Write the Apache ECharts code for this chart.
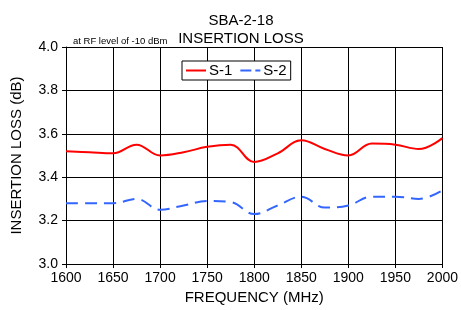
<!DOCTYPE html>
<html>
<head>
<meta charset="utf-8">
<script src="https://cdn.jsdelivr.net/npm/echarts@6/dist/echarts.min.js"></script>
<style>
  html, body { margin: 0; padding: 0; background: #fff; }
  #chart { width: 461px; height: 310px; }
</style>
</head>
<body>
<div id="chart"></div>
<script>
const freqs = [1600, 1625, 1650, 1675, 1700, 1725, 1750, 1775, 1800, 1825, 1850, 1875, 1900, 1925, 1950, 1975, 2000];
const s1 = [3.52, 3.515, 3.51, 3.55, 3.50, 3.515, 3.54, 3.55, 3.47, 3.51, 3.57, 3.53, 3.50, 3.555, 3.55, 3.53, 3.58];
const s2 = [3.28, 3.28, 3.28, 3.30, 3.25, 3.27, 3.29, 3.285, 3.23, 3.27, 3.31, 3.26, 3.27, 3.31, 3.31, 3.30, 3.34];

const font = 'Liberation Sans, Arial, sans-serif';
const pairs = (ys) => freqs.map((f, i) => [f, ys[i]]);

const chart = echarts.init(document.getElementById('chart'));
chart.setOption({
  animation: false,
  backgroundColor: '#fff',
  title: [
    { text: 'SBA-2-18\nINSERTION LOSS', left: 236, top: 7, textAlign: 'center',
      textStyle: { fontFamily: font, fontSize: 15, fontWeight: 'normal', color: '#000', lineHeight: 18 } },
    { text: 'at RF level of -10 dBm', left: 68, top: 31,
      textStyle: { fontFamily: font, fontSize: 9.5, fontWeight: 'normal', color: '#000' } }
  ],
  legend: {
    left: 182, top: 61,
    itemGap: 8, itemWidth: 20, itemHeight: 2,
    borderColor: '#000', borderWidth: 1, borderRadius: 0,
    padding: [2, 4, 2, 4],
    backgroundColor: '#fff',
    textStyle: { fontFamily: font, fontSize: 15, color: '#000', padding: [0, 0, 0, -2] },
    data: [
      { name: 'S-1', icon: 'path://M0,0H20V2H0Z' },
      { name: 'S-2', icon: 'path://M0,0H11V2H0Z M15,0H20V2H15Z' }
    ]
  },
  grid: { left: 66, right: 17, top: 47, bottom: 46 },
  xAxis: {
    type: 'value', min: 1600, max: 2000, interval: 50,
    name: 'FREQUENCY (MHz)', nameLocation: 'middle', nameGap: 25,
    nameTextStyle: { fontFamily: font, fontSize: 15, color: '#000' },
    axisLine: { lineStyle: { color: '#000', width: 1 } },
    axisTick: { show: true, length: 4, lineStyle: { color: '#000' } },
    axisLabel: { fontFamily: font, fontSize: 14, color: '#000', margin: 7,
      formatter: (v) => String(v) },
    splitLine: { show: true, lineStyle: { color: '#000', width: 1 } }
  },
  yAxis: {
    type: 'value', min: 3.0, max: 4.0, interval: 0.2,
    name: 'INSERTION LOSS (dB)', nameLocation: 'middle', nameGap: 42,
    nameTextStyle: { fontFamily: font, fontSize: 15, color: '#000' },
    axisLine: { show: true, lineStyle: { color: '#000', width: 1 } },
    axisTick: { show: true, length: 4, lineStyle: { color: '#000' } },
    axisLabel: { fontFamily: font, fontSize: 14, color: '#000', margin: 8,
      formatter: (v) => v.toFixed(1) },
    splitLine: { show: true, lineStyle: { color: '#000', width: 1 } }
  },
  series: [
    { name: 'S-1', type: 'line', data: pairs(s1), smooth: 0.4, showSymbol: false,
      color: '#ff0000', lineStyle: { color: '#ff0000', width: 2 } },
    { name: 'S-2', type: 'line', data: pairs(s2), smooth: 0.4, showSymbol: false,
      color: '#3366ff', lineStyle: { color: '#3366ff', width: 2, type: [12, 7] } }
  ]
});
</script>
</body>
</html>
